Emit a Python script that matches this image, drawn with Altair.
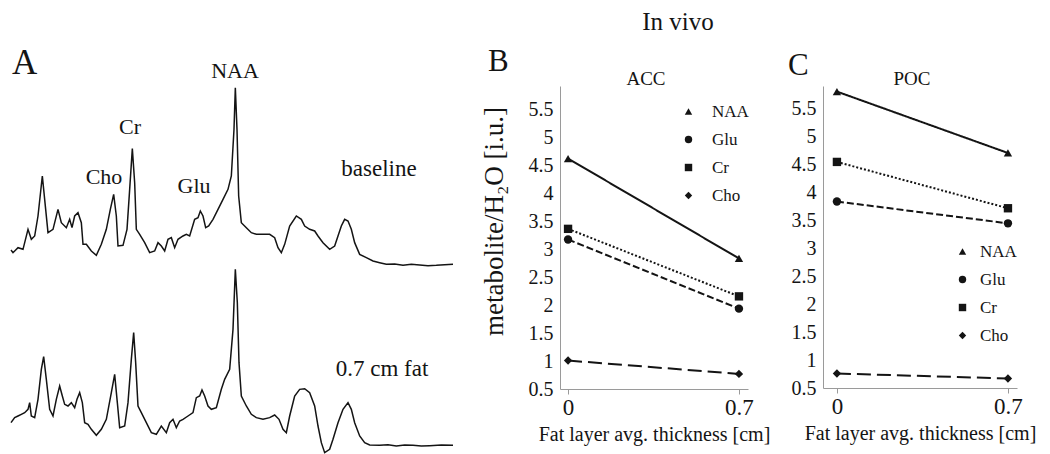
import altair as alt
import pandas as pd

FONT = "Liberation Serif"
INK = "#141414"
AXIS_GRAY = "#9a9a9a"

# ---------------- Panel A: spectra (channel position, intensity a.u.) ----------------
base_x = [24, 30, 45, 60, 75, 85, 95, 105, 118, 128, 135, 150, 165, 175, 190, 200, 207, 215, 225,
          235, 240, 250, 265, 280, 295, 310, 322, 332, 340, 345, 360, 372, 380, 388, 395, 400, 410,
          425, 440, 455, 465, 475, 485, 495, 505, 515, 525, 540, 550, 560, 575, 585, 592, 600, 608,
          617, 630, 645, 660, 675, 685, 693, 697, 702, 707, 715, 730, 745, 760, 780, 800, 815, 825,
          835, 845, 860, 880, 895, 905, 920, 935, 945, 960, 980, 995, 1005, 1015, 1025, 1035, 1045,
          1055, 1070, 1090, 1110, 1130, 1150, 1175, 1200, 1225, 1250, 1275, 1300, 1325, 1350]
base_i = [48, 40, 55, 50, 110, 80, 90, 150, 270, 170, 100, 110, 170, 130, 115, 140, 115, 150, 160,
          130, 65, 65, 45, 32, 65, 110, 170, 215, 150, 60, 62, 110, 230, 352, 250, 110, 95,
          70, 40, 45, 70, 60, 45, 80, 85, 55, 80, 90, 95, 90, 140, 145, 165, 150, 115,
          120, 140, 170, 200, 230, 270, 410, 535, 410, 210, 130, 115, 100, 95, 95, 95, 85, 55,
          40, 65, 120, 150, 140, 120, 110, 105, 90, 70, 50, 60, 90, 120, 140, 135, 110,
          70, 35, 25, 15, 10, 5, 6, 2, 5, 3, 1, 2, 4, 5]

fat_x = [24, 35, 45, 55, 65, 75, 80, 85, 95, 105, 115, 122, 130, 140, 150, 160, 170, 178, 185, 195,
         205, 215, 222, 230, 238, 245, 255, 265, 280, 295, 310, 325, 335, 343, 350, 365, 375, 385,
         392, 398, 405, 415, 430, 445, 460, 475, 490, 500, 510, 520, 530, 540, 555, 570, 580, 590,
         597, 605, 615, 625, 640, 655, 665, 680, 690, 697, 703, 708, 715, 730, 745, 760, 780, 800,
         815, 828, 840, 850, 860, 875, 890, 905, 920, 935, 945, 955, 965, 980, 990, 1005, 1020,
         1035, 1045, 1055, 1070, 1085, 1100, 1130, 1155, 1180, 1205, 1230, 1255, 1280, 1315, 1350]
fat_i = [70, 85, 90, 95, 100, 110, 130, 90, 85, 140, 230, 268, 200, 110, 90, 140, 180, 150, 125, 120,
         130, 115, 140, 160, 130, 70, 65, 50, 32, 50, 80, 160, 215, 130, 55, 60, 130, 260,
         340, 250, 120, 100, 70, 40, 35, 60, 40, 70, 80, 55, 75, 80, 90, 100, 145, 150,
         168, 150, 120, 110, 115, 170, 200, 230, 350, 530, 430, 250, 150, 120, 95, 85, 80, 85,
         93, 80, 50, 40, 90, 150, 170, 172, 160, 120, 60, 10, -20, -10, 20, 70, 110,
         130, 110, 70, 30, 10, 3, 2, 4, 0, 3, 2, 0, 1, 3, 2]

# ---------------- Panels B / C: metabolite / H2O ratios ----------------
thickness = [0, 0.7]
metabolites = ["NAA", "Glu", "Cr", "Cho"]
acc_naa = [4.63, 2.84]
acc_glu = [3.18, 1.94]
acc_cr = [3.37, 2.16]
acc_cho = [1.01, 0.77]
poc_naa = [5.81, 4.71]
poc_glu = [3.84, 3.45]
poc_cr = [4.55, 3.72]
poc_cho = [0.76, 0.67]
y_ticks = [0.5, 1, 1.5, 2, 2.5, 3, 3.5, 4, 4.5, 5, 5.5]


def long_table(series, key):
    rows = []
    for name, vals in series:
        for t, v in zip(thickness, vals):
            rows.append({key: name, "dash": name, "t": t, "v": v})
    return pd.DataFrame(rows)


df_acc = long_table([("NAA", acc_naa), ("Glu", acc_glu), ("Cr", acc_cr), ("Cho", acc_cho)], "acc")
df_poc = long_table([("NAA", poc_naa), ("Glu", poc_glu), ("Cr", poc_cr), ("Cho", poc_cho)], "poc")

df_spec = pd.concat([
    pd.DataFrame({"x": base_x, "i": base_i, "spec": "baseline", "offset": 540}),
    pd.DataFrame({"x": fat_x, "i": fat_i, "spec": "fat", "offset": 0}),
], ignore_index=True)

# ---------------- Panel A chart ----------------
spectra = alt.Chart(df_spec).transform_calculate(
    v="datum.i + datum.offset"
).mark_line(color=INK, strokeWidth=1.5, clip=False).encode(
    x=alt.X("x:Q", scale=alt.Scale(domain=[24, 1446], nice=False, zero=False), axis=None),
    y=alt.Y("v:Q", scale=alt.Scale(domain=[0, 1080], nice=False, zero=False), axis=None),
    detail="spec:N",
    order="x:Q",
)


def label(text, x, y, size, align="center", weight="normal"):
    return alt.Chart(pd.DataFrame({"txt": [text]})).mark_text(
        font=FONT, fontSize=size, align=align, baseline="alphabetic", color=INK, fontWeight=weight
    ).encode(text="txt:N", x=alt.value(x), y=alt.value(y))


panel_a = alt.layer(
    spectra,
    label("A", 1, -12, 35, align="left"),
    label("NAA", 224, -8, 22),
    label("Cr", 119, 48, 22),
    label("Cho", 93, 98, 22),
    label("Glu", 183, 107, 22),
    label("baseline", 368, 90, 23),
    label("0.7 cm fat", 371, 290, 23),
).properties(width=474, height=360)


# ---------------- Panels B / C ----------------
def ratio_panel(df, key, x_domain, y_top, width, y_title, legend_xy, label_offset,
                region, letter_xy, letter):
    x_axis = alt.Axis(
        values=[0, 0.7], format="~g", title="Fat layer avg. thickness [cm]",
        labelFont=FONT, labelFontSize=23, labelColor=INK, labelPadding=2,
        ticks=True, tickSize=5, tickColor=AXIS_GRAY, domainColor=AXIS_GRAY,
        titleFont=FONT, titleFontSize=20, titleFontWeight="normal", titleColor=INK, titlePadding=5,
        grid=False, labelFlush=False,
    )
    y_axis_kw = dict(
        values=y_ticks, format="~g", labelFont=FONT, labelFontSize=20, labelColor=INK,
        labelPadding=7, ticks=False, domainColor=AXIS_GRAY, grid=False,
    )
    if y_title:
        y_axis = alt.Axis(title=y_title, titleFont=FONT, titleFontSize=27, titleFontWeight="normal",
                          titleColor=INK, titleX=-52, titleY=135, titleAngle=270,
                          titleBaseline="bottom", titleAlign="center", **y_axis_kw)
    else:
        y_axis = alt.Axis(title=None, **y_axis_kw)

    base = alt.Chart(df).encode(
        x=alt.X("t:Q", scale=alt.Scale(domain=x_domain, nice=False, zero=False), axis=x_axis),
        y=alt.Y("v:Q", scale=alt.Scale(domain=[0.5, y_top], nice=False, zero=False), axis=y_axis),
    )
    lines = base.mark_line(color=INK, strokeWidth=2).encode(
        strokeDash=alt.StrokeDash(
            "dash:N",
            scale=alt.Scale(domain=metabolites, range=[[1, 0], [7, 3], [2, 2], [14, 6]]),
            legend=None,
        )
    )
    pts = base.mark_point(filled=True, color=INK, size=70, opacity=1).encode(
        shape=alt.Shape(
            f"{key}:N",
            scale=alt.Scale(domain=metabolites,
                            range=["triangle-up", "circle", "square", "diamond"]),
            legend=alt.Legend(
                title=None, orient="none", legendX=legend_xy[0], legendY=legend_xy[1],
                labelFont=FONT, labelFontSize=17, labelColor=INK, labelOffset=label_offset,
                symbolSize=55, symbolFillColor=INK, symbolStrokeColor=INK, symbolStrokeWidth=0,
                rowPadding=10, padding=0,
            ),
        )
    )
    return [lines, pts,
            label(region, width / 2 - 8, -1, 19),
            label(letter, letter_xy[0], letter_xy[1], 31, align="left")]


b_layers = ratio_panel(df_acc, "acc", [-0.033, 0.737], 5.93, 188, "metabolite/H₂O [i.u.]",
                       (120, 17), 15, "ACC", (-72, -15), "B")
b_layers.append(label("In vivo", 118, -56, 25))
panel_b = alt.layer(*b_layers).properties(width=188, height=303).resolve_scale(
    shape="independent", strokeDash="independent")

c_layers = ratio_panel(df_poc, "poc", [-0.057, 0.737], 5.91, 194, None,
                       (131, 157), 9, "POC", (-35, -11), "C")
panel_c = alt.layer(*c_layers).properties(width=194, height=302).resolve_scale(
    shape="independent", strokeDash="independent")

chart = alt.hconcat(panel_a, panel_b, panel_c, spacing=75, bounds="flush").resolve_scale(
    x="independent", y="independent", shape="independent", strokeDash="independent"
).resolve_legend(shape="independent", strokeDash="independent").properties(
    padding={"left": 0, "top": 2, "right": 0, "bottom": 0}, background="white"
).configure_view(stroke=None).configure_axis(
    labelFont=FONT, titleFont=FONT
).configure_legend(labelFont=FONT).configure_text(font=FONT)

chart.save("out.html", embed_options={"renderer": "svg", "actions": False})
